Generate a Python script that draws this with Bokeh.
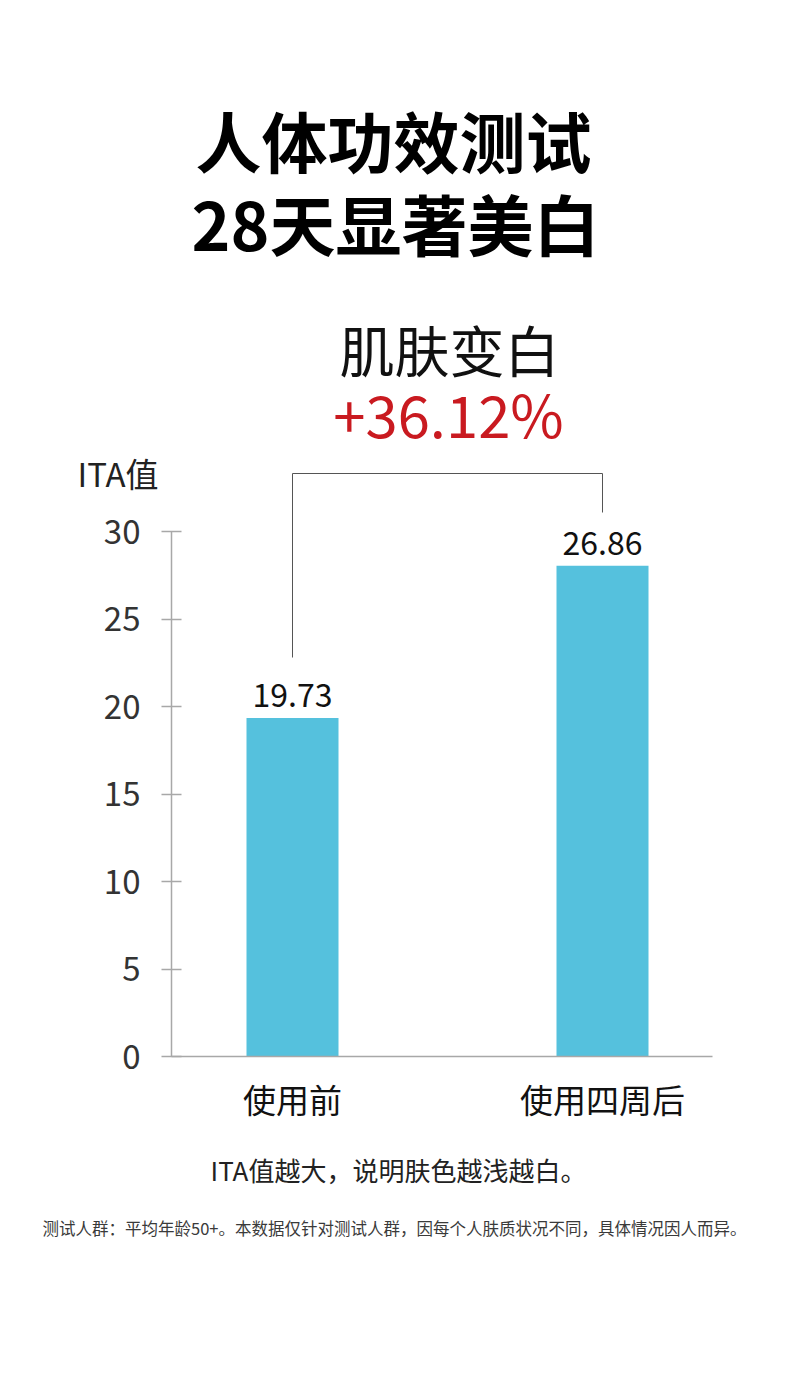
from bokeh.plotting import figure
from bokeh.models import Range1d, FixedTicker, Label, LabelSet, ColumnDataSource
from bokeh.core.properties import value
from bokeh.embed import file_html
from bokeh.resources import INLINE

# ---- data ----
categories = ["使用前", "使用四周后"]
bar_heights = [19.35, 28.05]          # bar heights as drawn in the picture
value_labels = ["19.73", "26.86"]     # printed values
y_ticks = [0, 5, 10, 15, 20, 25, 30]
title_lines = ["人体功效测试", "28天显著美白"]
headline = "肌肤变白"
headline_value = "+36.12%"
y_label = "ITA值"
note_1 = "ITA值越大，说明肤色越浅越白。"
note_2 = "测试人群：平均年龄50+。本数据仅针对测试人群，因每个人肤质状况不同，具体情况因人而异。"

FONT = "Noto Sans CJK SC"
BAR_COLOR = "#55c1dd"
RED = "#c91a20"
AXIS_COLOR = "#a8a8a8"

# ---- layout ----
W, H = 774, 1370
LEFT, RIGHT, TOP, BOTTOM = 171, 62, 8, 314
PX_PER_UNIT_Y = 17.5
PX_PER_UNIT_X = 310.0
x0 = 0.5 - 121 / PX_PER_UNIT_X
x1 = x0 + (W - LEFT - RIGHT) / PX_PER_UNIT_X
y1 = (H - TOP - BOTTOM) / PX_PER_UNIT_Y

def X(page_x):
    return x0 + (page_x - 171) / PX_PER_UNIT_X

def Y(page_y):
    return (1056 - page_y) / PX_PER_UNIT_Y

p = figure(width=W, height=H, output_backend="svg", toolbar_location=None,
           x_range=Range1d(x0, x1), y_range=Range1d(0, y1),
           min_border_left=LEFT, min_border_right=RIGHT,
           min_border_top=TOP, min_border_bottom=BOTTOM)
p.outline_line_color = None
p.xgrid.visible = False
p.ygrid.visible = False
p.background_fill_color = "white"
p.border_fill_color = "white"

xs = [i + 0.5 for i in range(len(categories))]
src = ColumnDataSource(dict(x=xs, top=bar_heights, lab=value_labels))
p.vbar(x="x", top="top", bottom=0, width=92 / PX_PER_UNIT_X, source=src,
       fill_color=BAR_COLOR, line_color=None)

# value labels above bars
p.add_layout(LabelSet(x="x", y="top", text="lab", source=src, y_offset=23,
                      text_align="center", text_baseline="middle",
                      text_font=value(FONT), text_font_size="32px",
                      text_color="#111111"))

# bracket between bars
p.line(x=[xs[0], xs[0], xs[1], xs[1]],
       y=[Y(657), Y(473), Y(473), Y(512)],
       line_color="#555555", line_width=1)

# axes
yax = p.yaxis[0]
yax.ticker = FixedTicker(ticks=y_ticks)
yax.bounds = (0, 30)
yax.major_tick_in = 10
yax.major_tick_out = 10
yax.minor_tick_line_color = None
yax.axis_line_color = AXIS_COLOR
yax.axis_line_width = 1.5
yax.major_tick_line_color = AXIS_COLOR
yax.major_tick_line_width = 1.5
yax.major_label_text_font = FONT
yax.major_label_text_font_size = "33px"
yax.major_label_text_color = "#333333"
yax.major_label_standoff = 21

xax = p.xaxis[0]
xax.ticker = FixedTicker(ticks=xs)
xax.major_label_overrides = {xs[i]: categories[i] for i in range(len(categories))}
xax.major_tick_in = 0
xax.major_tick_out = 0
xax.minor_tick_line_color = None
xax.axis_line_color = AXIS_COLOR
xax.axis_line_width = 1.5
xax.major_label_text_font = FONT
xax.major_label_text_font_size = "33px"
xax.major_label_text_color = "#111111"
xax.major_label_standoff = 18

def add_label(text, px, py, size, color, style="normal", align="center", place="center"):
    lab = Label(x=X(px), y=Y(py), text=text, text_font=FONT,
                text_font_size=size, text_color=color,
                text_font_style=style, text_align=align,
                text_baseline="middle")
    if place == "center":
        p.add_layout(lab)
    else:
        p.add_layout(lab, place)

add_label(title_lines[0], 393, 138, "66px", "#000000", "bold")
add_label(title_lines[1], 395, 221, "66px", "#000000", "bold")
add_label(headline, 449, 347, "55px", "#111111")
add_label(headline_value, 448, 412, "58px", RED)
add_label(y_label, 77, 472, "33px", "#222222", align="left", place="left")
add_label(note_1, 398, 1169, "26px", "#222222", place="below")
add_label(note_2, 394, 1227, "16.5px", "#3a3a3a", place="below")

open("out.html", "w").write(file_html(p, INLINE))
